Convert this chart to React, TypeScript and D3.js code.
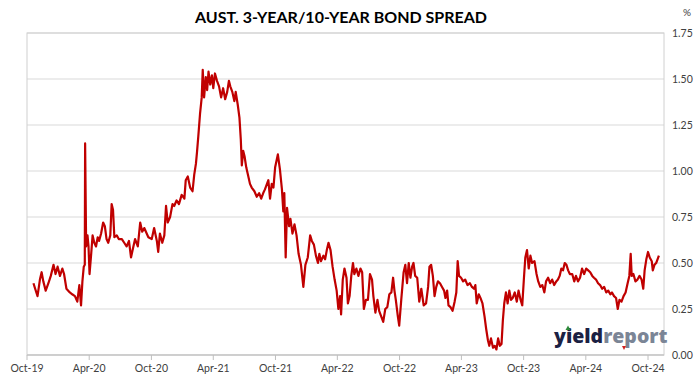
import React from "react";
import * as d3 from "d3";

const width = 699;
const height = 385;
const plot = { left: 27, right: 664, top: 33, bottom: 355 };

const title = "AUST. 3-YEAR/10-YEAR BOND SPREAD";

const tickDates = [
  "2019-10-01", "2020-04-01", "2020-10-01", "2021-04-01", "2021-10-01", "2022-04-01",
  "2022-10-01", "2023-04-01", "2023-10-01", "2024-04-01", "2024-10-01",
];
const tickLabels = [
  "Oct-19", "Apr-20", "Oct-20", "Apr-21", "Oct-21", "Apr-22",
  "Oct-22", "Apr-23", "Oct-23", "Apr-24", "Oct-24",
];
const yTicks = [0, 0.25, 0.5, 0.75, 1.0, 1.25, 1.5, 1.75];

// 3yr/10yr spread, %
const dates = [
  "2019-10-20", "2019-10-25", "2019-11-01", "2019-11-08", "2019-11-13", "2019-11-18", "2019-11-25",
  "2019-12-03", "2019-12-10", "2019-12-18", "2019-12-24", "2019-12-30", "2020-01-06", "2020-01-13",
  "2020-01-18", "2020-01-25", "2020-02-04", "2020-02-11", "2020-02-19", "2020-02-26", "2020-03-03",
  "2020-03-08", "2020-03-12", "2020-03-16", "2020-03-19", "2020-03-20", "2020-03-23", "2020-03-27",
  "2020-03-30", "2020-04-02", "2020-04-06", "2020-04-11", "2020-04-16", "2020-04-21", "2020-04-26",
  "2020-04-30", "2020-05-06", "2020-05-12", "2020-05-17", "2020-05-22", "2020-05-27", "2020-06-02",
  "2020-06-06", "2020-06-10", "2020-06-14", "2020-06-21", "2020-06-27", "2020-07-06", "2020-07-13",
  "2020-07-20", "2020-07-27", "2020-08-02", "2020-08-09", "2020-08-14", "2020-08-22", "2020-08-29",
  "2020-09-04", "2020-09-10", "2020-09-22", "2020-10-02", "2020-10-09", "2020-10-17", "2020-10-21",
  "2020-10-26", "2020-11-02", "2020-11-08", "2020-11-13", "2020-11-18", "2020-11-25", "2020-12-02",
  "2020-12-07", "2020-12-14", "2020-12-21", "2020-12-29", "2021-01-06", "2021-01-10", "2021-01-16",
  "2021-01-23", "2021-01-30", "2021-02-04", "2021-02-09", "2021-02-12", "2021-02-16", "2021-02-21",
  "2021-02-26", "2021-03-01", "2021-03-05", "2021-03-10", "2021-03-14", "2021-03-18", "2021-03-23",
  "2021-03-28", "2021-04-01", "2021-04-06", "2021-04-12", "2021-04-18", "2021-04-24", "2021-04-30",
  "2021-05-06", "2021-05-12", "2021-05-17", "2021-05-21", "2021-05-27", "2021-06-02", "2021-06-06",
  "2021-06-12", "2021-06-17", "2021-06-21", "2021-06-24", "2021-06-28", "2021-07-02", "2021-07-07",
  "2021-07-12", "2021-07-18", "2021-07-23", "2021-07-31", "2021-08-07", "2021-08-14", "2021-08-20",
  "2021-08-26", "2021-08-31", "2021-09-10", "2021-09-15", "2021-09-20", "2021-09-25", "2021-09-30",
  "2021-10-08", "2021-10-14", "2021-10-20", "2021-10-24", "2021-10-27", "2021-10-31", "2021-11-04",
  "2021-11-10", "2021-11-14", "2021-11-20", "2021-11-26", "2021-12-02", "2021-12-08", "2021-12-15",
  "2021-12-22", "2021-12-28", "2022-01-04", "2022-01-11", "2022-01-16", "2022-01-22", "2022-01-28",
  "2022-02-03", "2022-02-07", "2022-02-12", "2022-02-19", "2022-02-24", "2022-03-01", "2022-03-06",
  "2022-03-12", "2022-03-18", "2022-03-24", "2022-03-30", "2022-04-04", "2022-04-09", "2022-04-12",
  "2022-04-17", "2022-04-22", "2022-04-28", "2022-05-02", "2022-05-07", "2022-05-12", "2022-05-17",
  "2022-05-21", "2022-05-27", "2022-06-02", "2022-06-08", "2022-06-13", "2022-06-18", "2022-06-24",
  "2022-06-30", "2022-07-06", "2022-07-12", "2022-07-16", "2022-07-22", "2022-07-28", "2022-08-02",
  "2022-08-08", "2022-08-14", "2022-08-20", "2022-08-26", "2022-09-01", "2022-09-07", "2022-09-12",
  "2022-09-16", "2022-09-20", "2022-09-26", "2022-09-30", "2022-10-06", "2022-10-13", "2022-10-18",
  "2022-10-23", "2022-10-28", "2022-11-02", "2022-11-07", "2022-11-11", "2022-11-16", "2022-11-22",
  "2022-11-28", "2022-12-04", "2022-12-11", "2022-12-18", "2022-12-24", "2022-12-28", "2023-01-02",
  "2023-01-07", "2023-01-12", "2023-01-17", "2023-01-22", "2023-01-28", "2023-02-03", "2023-02-09",
  "2023-02-13", "2023-02-18", "2023-02-22", "2023-02-28", "2023-03-06", "2023-03-12", "2023-03-17",
  "2023-03-21", "2023-03-25", "2023-03-31", "2023-04-06", "2023-04-12", "2023-04-19", "2023-04-26",
  "2023-05-02", "2023-05-08", "2023-05-12", "2023-05-16", "2023-05-22", "2023-05-27", "2023-06-02",
  "2023-06-08", "2023-06-13", "2023-06-18", "2023-06-22", "2023-06-27", "2023-07-03", "2023-07-08",
  "2023-07-13", "2023-07-18", "2023-07-23", "2023-07-28", "2023-08-01", "2023-08-05", "2023-08-10",
  "2023-08-15", "2023-08-20", "2023-08-25", "2023-08-30", "2023-09-05", "2023-09-11", "2023-09-16",
  "2023-09-22", "2023-09-27", "2023-10-02", "2023-10-06", "2023-10-11", "2023-10-16", "2023-10-21",
  "2023-10-26", "2023-11-02", "2023-11-08", "2023-11-13", "2023-11-19", "2023-11-25", "2023-12-01",
  "2023-12-06", "2023-12-12", "2023-12-18", "2023-12-24", "2023-12-30", "2024-01-05", "2024-01-10",
  "2024-01-15", "2024-01-20", "2024-01-25", "2024-01-30", "2024-02-04", "2024-02-09", "2024-02-14",
  "2024-02-21", "2024-02-27", "2024-03-03", "2024-03-09", "2024-03-15", "2024-03-21", "2024-03-27",
  "2024-04-02", "2024-04-08", "2024-04-14", "2024-04-20", "2024-04-25", "2024-05-01", "2024-05-07",
  "2024-05-13", "2024-05-19", "2024-05-25", "2024-05-31", "2024-06-06", "2024-06-12", "2024-06-17",
  "2024-06-23", "2024-06-29", "2024-07-04", "2024-07-09", "2024-07-15", "2024-07-21", "2024-07-27",
  "2024-08-02", "2024-08-07", "2024-08-11", "2024-08-14", "2024-08-19", "2024-08-25", "2024-08-31",
  "2024-09-06", "2024-09-12", "2024-09-17", "2024-09-21", "2024-09-26", "2024-10-01", "2024-10-06",
  "2024-10-12", "2024-10-15", "2024-10-20", "2024-10-25", "2024-10-29", "2024-11-02",
];
const spread = [
  0.39, 0.36, 0.32, 0.41, 0.45, 0.40, 0.35,
  0.39, 0.43, 0.49, 0.44, 0.48, 0.43, 0.47,
  0.44, 0.36, 0.34, 0.33, 0.32, 0.29, 0.38,
  0.27, 0.40, 0.48, 0.49, 1.15, 0.59, 0.65,
  0.59, 0.44, 0.53, 0.65, 0.61, 0.59, 0.64,
  0.62, 0.66, 0.72, 0.70, 0.63, 0.61, 0.65,
  0.82, 0.79, 0.64, 0.65, 0.63, 0.63, 0.61,
  0.59, 0.62, 0.53, 0.59, 0.63, 0.59, 0.72,
  0.67, 0.69, 0.64, 0.63, 0.69, 0.62, 0.56,
  0.66, 0.61, 0.65, 0.81, 0.72, 0.75, 0.82,
  0.81, 0.84, 0.82, 0.87, 0.85, 0.95, 0.97,
  0.91, 0.89, 0.98, 1.04, 1.10, 1.19, 1.31,
  1.40, 1.55, 1.40, 1.51, 1.44, 1.54, 1.47,
  1.52, 1.45, 1.53, 1.49, 1.46, 1.40, 1.45,
  1.39, 1.43, 1.49, 1.46, 1.43, 1.38, 1.43,
  1.36, 1.29, 1.17, 1.03, 1.11, 1.08, 1.02,
  0.98, 0.93, 0.91, 0.89, 0.86, 0.88, 0.85,
  0.88, 0.90, 0.95, 0.85, 0.93, 0.91, 1.02,
  1.09, 1.01, 0.90, 0.78, 0.88, 0.53, 0.80,
  0.70, 0.74, 0.66, 0.71, 0.65, 0.55, 0.49,
  0.37, 0.49, 0.53, 0.65, 0.62, 0.60, 0.54,
  0.50, 0.55, 0.51, 0.54, 0.52, 0.57, 0.61,
  0.57, 0.48, 0.41, 0.35, 0.25, 0.32, 0.22,
  0.41, 0.47, 0.42, 0.28, 0.32, 0.43, 0.50,
  0.44, 0.47, 0.43, 0.47, 0.45, 0.25, 0.30,
  0.30, 0.44, 0.41, 0.32, 0.23, 0.30, 0.24,
  0.21, 0.18, 0.25, 0.26, 0.33, 0.34, 0.42,
  0.35, 0.30, 0.21, 0.16, 0.30, 0.45, 0.49,
  0.39, 0.50, 0.42, 0.48, 0.50, 0.43, 0.42,
  0.29, 0.36, 0.27, 0.28, 0.37, 0.48, 0.49,
  0.43, 0.32, 0.37, 0.40, 0.39, 0.37, 0.35,
  0.31, 0.35, 0.27, 0.26, 0.24, 0.29, 0.34,
  0.51, 0.43, 0.42, 0.40, 0.41, 0.38, 0.39,
  0.37, 0.36, 0.38, 0.28, 0.33, 0.31, 0.28,
  0.21, 0.14, 0.08, 0.05, 0.09, 0.04, 0.05,
  0.03, 0.09, 0.05, 0.06, 0.19, 0.28, 0.34,
  0.28, 0.35, 0.30, 0.31, 0.34, 0.29, 0.35,
  0.30, 0.27, 0.42, 0.53, 0.57, 0.47, 0.54,
  0.50, 0.51, 0.44, 0.40, 0.37, 0.38, 0.34,
  0.40, 0.42, 0.39, 0.41, 0.38, 0.40, 0.41,
  0.43, 0.47, 0.46, 0.50, 0.49, 0.46, 0.44,
  0.44, 0.40, 0.43, 0.40, 0.42, 0.47, 0.44,
  0.47, 0.46, 0.45, 0.43, 0.42, 0.41, 0.39,
  0.38, 0.36, 0.37, 0.34, 0.35, 0.33, 0.34,
  0.32, 0.31, 0.25, 0.30, 0.29, 0.32, 0.34,
  0.39, 0.43, 0.55, 0.43, 0.44, 0.40, 0.41,
  0.43, 0.41, 0.36, 0.46, 0.52, 0.56, 0.53,
  0.51, 0.46, 0.49, 0.50, 0.52, 0.54,
];

const parse = d3.timeParse("%Y-%m-%d");
const font = "Lato, 'Liberation Sans', sans-serif";

export default function App() {
  const x = d3
    .scaleTime()
    .domain([parse("2019-10-01")!, parse("2024-11-17")!])
    .range([plot.left, plot.right]);
  const y = d3.scaleLinear().domain([0, 1.75]).range([plot.bottom, plot.top]);

  const points = dates.map((d, i) => ({ date: parse(d)!, value: spread[i] }));
  const line = d3
    .line<{ date: Date; value: number }>()
    .x(d => x(d.date))
    .y(d => y(d.value));

  return (
    <svg
      width={width}
      height={height}
      style={{ position: "absolute", left: 0, top: 0, background: "#fff" }}
    >
      <text
        x={341}
        y={23}
        textAnchor="middle"
        fontFamily={font}
        fontWeight="bold"
        fontSize={16}
        fill="#000"
      >
        {title}
      </text>
      <text x={683} y={16} fontFamily={font} fontSize={10} fill="#404040">
        %
      </text>

      {yTicks.map(t => (
        <g key={t}>
          <line x1={plot.left} x2={plot.right} y1={y(t)} y2={y(t)} stroke="#d9d9d9" strokeWidth={1} />
          <text x={672} y={y(t)} dy="0.35em" fontFamily={font} fontSize={10.5} fill="#404040">
            {d3.format(".2f")(t)}
          </text>
        </g>
      ))}

      <rect
        x={plot.left}
        y={plot.top}
        width={plot.right - plot.left}
        height={plot.bottom - plot.top}
        fill="none"
        stroke="#d0d0d0"
        strokeWidth={1}
      />
      <line x1={plot.left} x2={plot.right} y1={plot.bottom} y2={plot.bottom} stroke="#bfbfbf" />

      {tickDates.map((d, i) => {
        const tx = x(parse(d)!);
        return (
          <g key={d}>
            <line x1={tx} x2={tx} y1={plot.bottom} y2={plot.bottom + 5} stroke="#bfbfbf" />
            <text x={tx} y={372} textAnchor="middle" fontFamily={font} fontSize={10.5} fill="#404040">
              {tickLabels[i]}
            </text>
          </g>
        );
      })}

      <path d={line(points) ?? ""} fill="none" stroke="#c00000" strokeWidth={2.2} strokeLinejoin="round" />

      {/* logo */}
      <text
        x={554}
        y={343}
        fontFamily="'Open Sans', sans-serif"
        fontWeight={800}
        fontSize={19.5}
      >
        <tspan fill="#1b2143">yield</tspan>
        <tspan fill="#7b8596">report</tspan>
      </text>
      <path d="M565.5,330 L568,325.5 L570.5,330 Z" fill="#2e8b3a" />
      <path d="M622,346 L626,346 L624,350 Z" fill="#d02020" />
    </svg>
  );
}
